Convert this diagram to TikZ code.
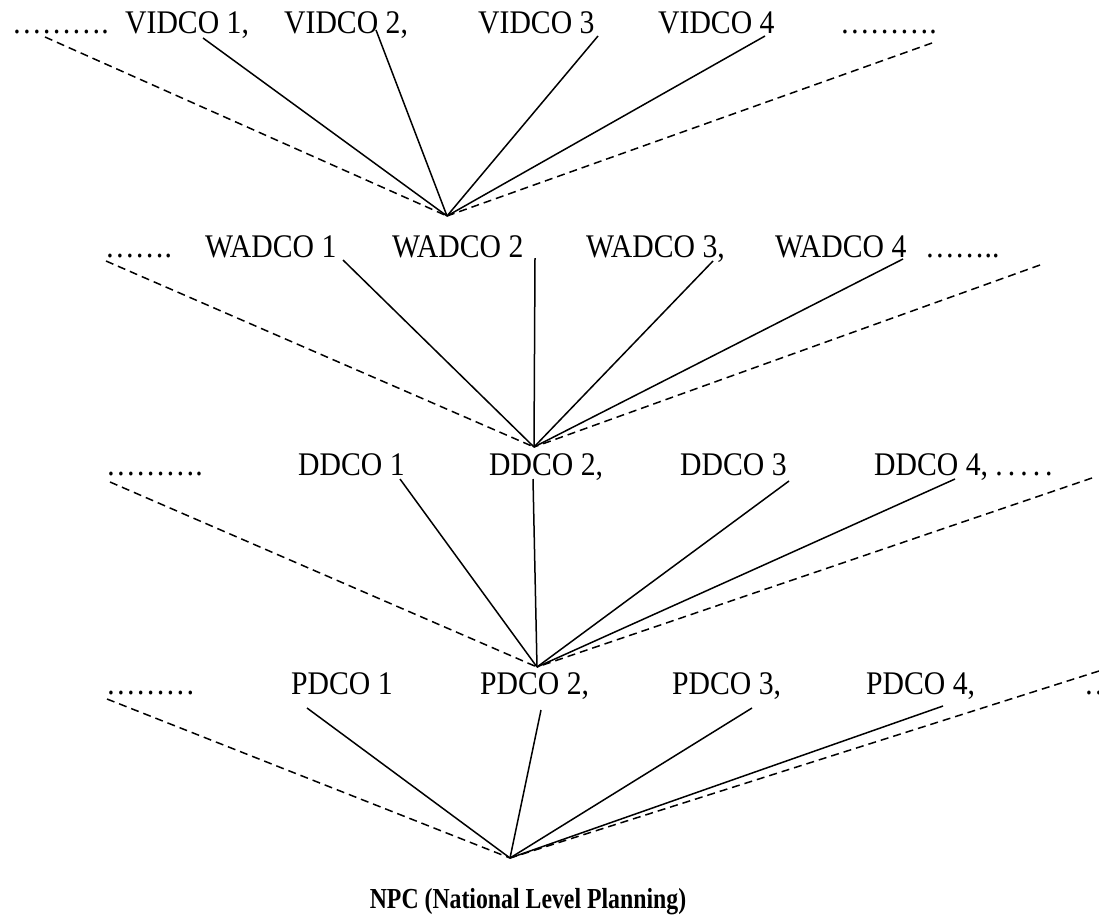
\documentclass[tikz,border=0pt]{standalone}
\usepackage{fontspec}
\setmainfont{Liberation Serif}
\newfontfamily\rowfont[FakeStretch=0.9]{Liberation Serif}
\newfontfamily\npcfont[FakeStretch=0.82]{Liberation Serif}
\begin{document}
\begin{tikzpicture}[x=1pt,y=-1pt,
  lbl/.style={anchor=base west,inner sep=0pt,font=\rowfont\fontsize{33}{38}\selectfont},
  title/.style={anchor=base,inner sep=0pt,font=\npcfont\bfseries\fontsize{29}{34}\selectfont},
  solidln/.style={line width=1.5pt},
  dashln/.style={line width=1.5pt,dash pattern=on 8pt off 5pt}]
\clip (0,0) rectangle (1099,921);
\fill[white] (0,0) rectangle (1099,921);
% row 1
\node[lbl] (r1dl) at (12,33) {……….};
\node[lbl] (v1) at (125,33) {VIDCO 1,};
\node[lbl] (v2) at (284,33) {VIDCO 2,};
\node[lbl] (v3) at (478,33) {VIDCO 3};
\node[lbl] (v4) at (658,33) {VIDCO 4};
\node[lbl] (r1dr) at (840,33) {……….};
\coordinate (c1) at (447,216);
\coordinate (r1dls) at (45,37);
\coordinate (v1s) at (203,38);
\coordinate (v2s) at (376,30);
\coordinate (v3s) at (598,36);
\coordinate (v4s) at (765,36);
\coordinate (r1drs) at (932,43);
% row 2
\node[lbl] (r2dl) at (105,257) {…….};
\node[lbl] (w1) at (205,257) {WADCO 1};
\node[lbl] (w2) at (392,257) {WADCO 2};
\node[lbl] (w3) at (586,257) {WADCO 3,};
\node[lbl] (w4) at (775,257) {WADCO 4};
\node[lbl] (r2dr) at (925,257) {……..};
\coordinate (c2) at (534,447);
\coordinate (r2dls) at (106,261);
\coordinate (w1s) at (343,260);
\coordinate (w2s) at (535,258);
\coordinate (w3s) at (713,261);
\coordinate (w4s) at (903,259);
\coordinate (r2drs) at (1040,265);
% row 3
\node[lbl] (r3dl) at (106,475) {……….};
\node[lbl] (d1) at (298,475) {DDCO 1};
\node[lbl] (d2) at (489,475) {DDCO 2,};
\node[lbl] (d3) at (680,475) {DDCO 3};
\node[lbl] (d4) at (874,475) {DDCO 4, {.\kern5pt.\kern5pt.\kern5pt.\kern5pt.}};
\coordinate (c3) at (537,667);
\coordinate (r3dls) at (110,482);
\coordinate (d1s) at (400,479);
\coordinate (d2s) at (533,479);
\coordinate (d3s) at (789,481);
\coordinate (d4s) at (955,479);
\coordinate (r3drs) at (1092,478);
% row 4
\node[lbl] (r4dl) at (106,694) {………};
\node[lbl] (p1) at (291,694) {PDCO 1};
\node[lbl] (p2) at (480,694) {PDCO 2,};
\node[lbl] (p3) at (672,694) {PDCO 3,};
\node[lbl] (p4) at (866,694) {PDCO 4,};
\node[lbl] (r4dr) at (1084,694) {…};
\coordinate (c4) at (510,858);
\coordinate (r4dls) at (107,699);
\coordinate (p1s) at (307,708);
\coordinate (p2s) at (541,710);
\coordinate (p3s) at (752,708);
\coordinate (p4s) at (943,706);
\coordinate (r4drs) at (1099,671);
% bottom title
\node[title] (npc) at (528,908) {NPC (National Level Planning)};
% connectors
\foreach \s in {v1s,v2s,v3s,v4s} \draw[solidln] (\s) -- (c1);
\foreach \s in {r1dls,r1drs} \draw[dashln] (\s) -- (c1);
\foreach \s in {w1s,w2s,w3s,w4s} \draw[solidln] (\s) -- (c2);
\foreach \s in {r2dls,r2drs} \draw[dashln] (\s) -- (c2);
\foreach \s in {d1s,d2s,d3s,d4s} \draw[solidln] (\s) -- (c3);
\foreach \s in {r3dls,r3drs} \draw[dashln] (\s) -- (c3);
\foreach \s in {p1s,p2s,p3s,p4s} \draw[solidln] (\s) -- (c4);
\foreach \s in {r4dls,r4drs} \draw[dashln] (\s) -- (c4);
\end{tikzpicture}
\end{document}
